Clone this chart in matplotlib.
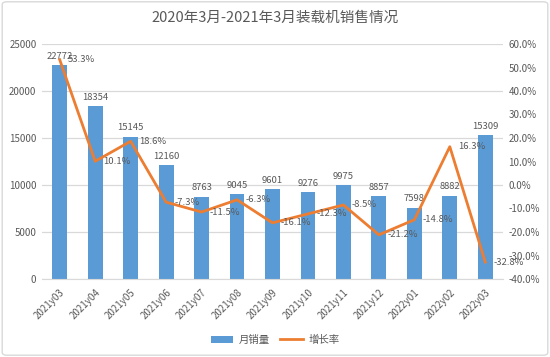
import matplotlib
matplotlib.use("Agg")
from matplotlib import pyplot as plt
from matplotlib.patches import FancyBboxPatch
from matplotlib.ticker import FuncFormatter

plt.rcParams['font.family'] = ['Noto Sans CJK SC', 'DejaVu Sans']

# data
months = ["2021y03", "2021y04", "2021y05", "2021y06", "2021y07", "2021y08", "2021y09",
          "2021y10", "2021y11", "2021y12", "2022y01", "2022y02", "2022y03"]
sales = [22772, 18354, 15145, 12160, 8763, 9045, 9601, 9276, 9975, 8857, 7598, 8882, 15309]
growth = [53.3, 10.1, 18.6, -7.3, -11.5, -6.3, -16.1, -12.3, -8.5, -21.2, -14.8, 16.3, -32.8]

txt = "#595959"
bar_c = "#5B9BD5"
line_c = "#ED7D31"

fig = plt.figure(figsize=(5.5, 3.57), dpi=100)
ax = fig.add_axes([42 / 550, 1 - 279 / 357, 461 / 550, 235 / 357])
ax2 = ax.twinx()

x = list(range(len(months)))
bars = ax.bar(x, sales, width=0.42, color=bar_c, label="月销量", zorder=2)
for xi, v in zip(x, sales):
    ax.annotate(str(v), (xi, v), xytext=(0, 3), textcoords="offset points",
                ha="center", va="bottom", fontsize=6.8, color=txt)

ax.set_xlim(-0.5, len(months) - 0.5)
ax.set_ylim(0, 25000)
ax.set_yticks([0, 5000, 10000, 15000, 20000, 25000])
ax.grid(axis="y", color="#D9D9D9", linewidth=0.9, zorder=0)
ax.set_axisbelow(True)
ax.set_xticks(x)
ax.set_xticklabels(months, rotation=45, ha="right", rotation_mode="anchor")
ax.tick_params(axis="both", length=0, labelsize=7, colors=txt, pad=4)
ax.tick_params(axis="x", pad=6)

ln, = ax2.plot(x, growth, color=line_c, linewidth=2.0, label="增长率", zorder=3)
for xi, g in zip(x, growth):
    ax2.annotate("%.1f%%" % g, (xi, g), xytext=(6, 0), textcoords="offset points",
                 ha="left", va="center", fontsize=6.8, color=txt)
ax2.set_ylim(-40, 60)
ax2.set_yticks(range(-40, 61, 10))
ax2.yaxis.set_major_formatter(FuncFormatter(lambda v, p: "%.1f%%" % v))
ax2.tick_params(axis="y", length=0, labelsize=7, colors=txt, pad=4)

for a in (ax, ax2):
    for s in a.spines.values():
        s.set_visible(False)
ax.spines["bottom"].set_visible(True)
ax.spines["bottom"].set_color("#D9D9D9")

fig.text(0.5, 1 - 18 / 357, "2020年3月-2021年3月装载机销售情况", ha="center", va="center",
         fontsize=10.5, color=txt)

fig.legend([bars, ln], ["月销量", "增长率"], loc="center", bbox_to_anchor=(0.5, 1 - 340 / 357),
           ncol=2, frameon=False, fontsize=7.5, labelcolor=txt, handlelength=2.2,
           columnspacing=1.0, handletextpad=0.5)

fig.patches.append(FancyBboxPatch((0.004, 0.005), 0.992, 0.99, transform=fig.transFigure,
                                  boxstyle="round,pad=0,rounding_size=0.008",
                                  fill=False, edgecolor="#D9D9D9", linewidth=1))

fig.savefig("out.png", dpi=100)
